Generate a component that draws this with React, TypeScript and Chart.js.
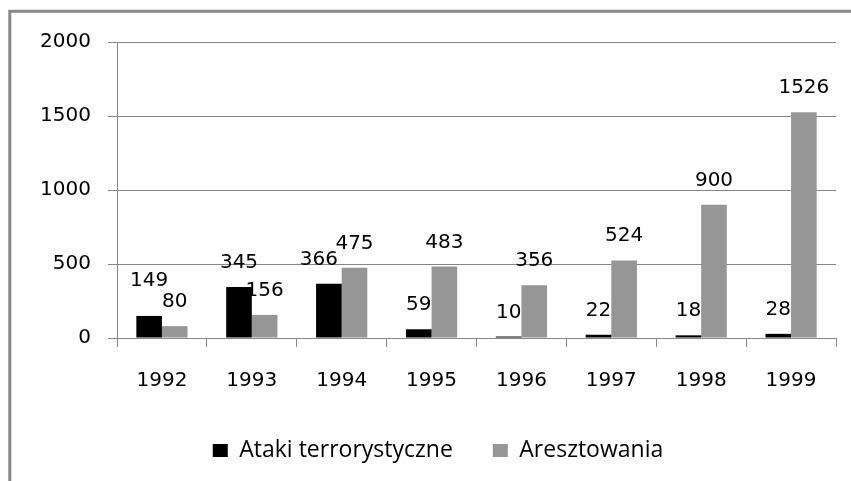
import React, { useEffect, useRef } from "react";
import { Chart, registerables } from "chart.js";

Chart.register(...registerables);

const categories = ["1992", "1993", "1994", "1995", "1996", "1997", "1998", "1999"];
const attacks = [149, 345, 366, 59, 10, 22, 18, 28];
const arrests = [80, 156, 475, 483, 356, 524, 900, 1526];
const seriesNames = ["Ataki terrorystyczne", "Aresztowania"];
const yMin = 0;
const yMax = 2000;
const yStep = 500;

// Excel moved a couple of labels to avoid collisions
const labelNudges: Record<string, [number, number]> = {
  "0-0": [0, -11],
  "0-2": [-10, 0],
};

const NUM_FONT = "'DejaVu Sans', Verdana, sans-serif";
const LEGEND_FONT = "'Open Sans', Lato, sans-serif";
const LINE = "#868686";

const framePlugin = {
  id: "frame",
  beforeDraw(chart: any) {
    const ctx = chart.ctx;
    ctx.save();
    ctx.fillStyle = "#fefefe";
    ctx.fillRect(0, 0, chart.width, chart.height);
    ctx.strokeStyle = "#898989";
    ctx.lineWidth = 3;
    ctx.strokeRect(9.8, 11.3, chart.width + 40, chart.height + 40);
    ctx.restore();
  },
};

const labelPlugin = {
  id: "barLabels",
  afterDatasetsDraw(chart: any) {
    const ctx = chart.ctx;
    ctx.save();
    ctx.font = `20px ${NUM_FONT}`;
    ctx.fillStyle = "#000";
    ctx.textAlign = "center";
    ctx.textBaseline = "alphabetic";
    chart.data.datasets.forEach((ds: any, di: number) => {
      const meta = chart.getDatasetMeta(di);
      meta.data.forEach((bar: any, i: number) => {
        const nudge = labelNudges[`${di}-${i}`] || [0, 0];
        ctx.fillText(String(ds.data[i]), bar.x + nudge[0], bar.y - 19 + nudge[1]);
      });
    });
    ctx.restore();
  },
};

export default function App() {
  const ref = useRef<HTMLCanvasElement | null>(null);

  useEffect(() => {
    if (!ref.current) return;
    const chart = new Chart(ref.current, {
      type: "bar",
      data: {
        labels: categories,
        datasets: [
          {
            label: seriesNames[0],
            data: attacks,
            backgroundColor: "#000000",
            categoryPercentage: 0.57,
            barPercentage: 1.0,
          },
          {
            label: seriesNames[1],
            data: arrests,
            backgroundColor: "#969696",
            categoryPercentage: 0.57,
            barPercentage: 1.0,
          },
        ],
      },
      options: {
        responsive: false,
        animation: false,
        devicePixelRatio: 1,
        layout: { padding: { left: 40, right: 15, top: 42, bottom: 9 } },
        plugins: {
          tooltip: { enabled: false },
          legend: {
            position: "bottom",
            labels: {
              boxWidth: 15,
              boxHeight: 13,
              padding: 40,
              color: "#000",
              font: { family: LEGEND_FONT, size: 23 },
            },
          },
        },
        scales: {
          x: {
            grid: {
              drawOnChartArea: false,
              drawTicks: true,
              tickLength: 9,
              color: LINE,
              offset: true,
            },
            border: { color: LINE },
            ticks: {
              padding: 22,
              color: "#000",
              font: { family: NUM_FONT, size: 20 },
            },
            afterFit: (s: any) => {
              s.height = 61;
            },
          },
          y: {
            min: yMin,
            max: yMax,
            ticks: {
              stepSize: yStep,
              padding: 17,
              color: "#000",
              font: { family: NUM_FONT, size: 20 },
              callback: (v: any) => String(v),
            },
            grid: { color: LINE, tickLength: 9 },
            border: { color: LINE },
            afterFit: (s: any) => {
              s.width = 77;
            },
          },
        },
      },
      plugins: [framePlugin, labelPlugin],
    });
    return () => chart.destroy();
  }, []);

  return (
    <div style={{ position: "fixed", left: 0, top: 0, width: 851, height: 481 }}>
      <canvas ref={ref} width={851} height={481} style={{ display: "block" }} />
    </div>
  );
}
